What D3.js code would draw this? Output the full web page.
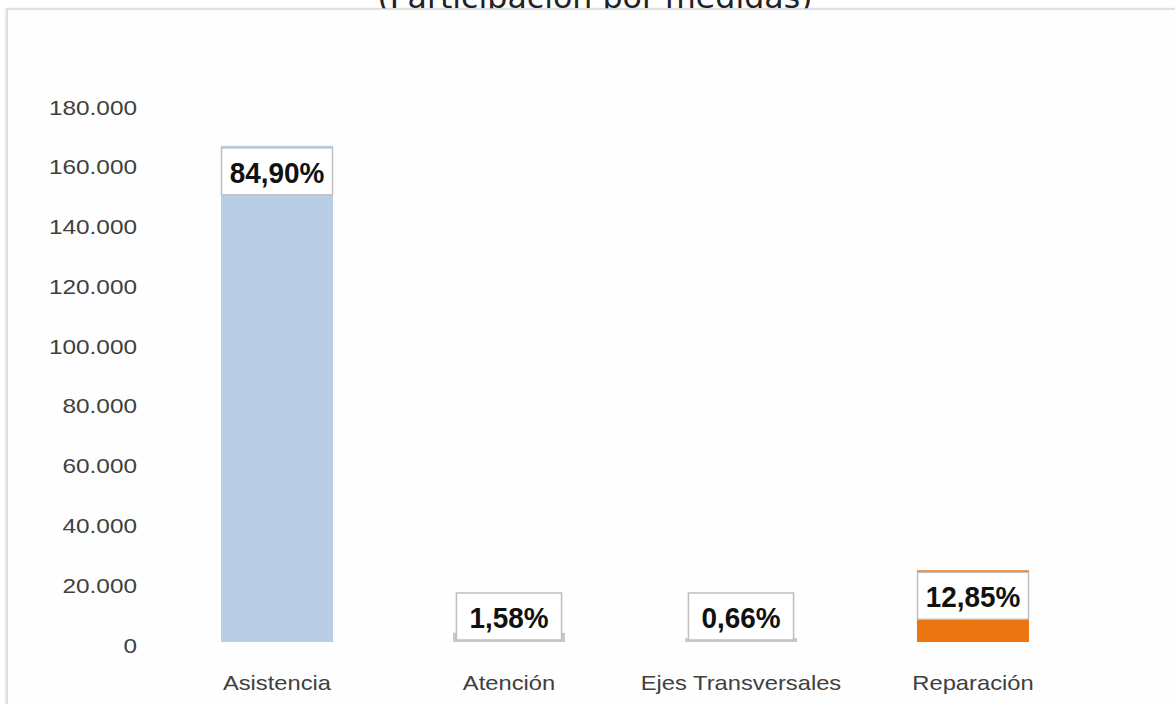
<!DOCTYPE html>
<html>
<head>
<meta charset="utf-8">
<script src="https://cdn.jsdelivr.net/npm/d3@7"></script>
<style>
  html, body { margin: 0; padding: 0; background: #ffffff; }
  svg { display: block; }
</style>
</head>
<body>
<svg id="chart" width="1175" height="704"></svg>
<script>
// ---- data ----
const categories = ["Asistencia", "Atención", "Ejes Transversales", "Reparación"];
const values = [166000, 3090, 1290, 24000];
const percentLabels = ["84,90%", "1,58%", "0,66%", "12,85%"];
const yTicks = [0, 20000, 40000, 60000, 80000, 100000, 120000, 140000, 160000, 180000];
const tickLabels = ["0", "20.000", "40.000", "60.000", "80.000", "100.000", "120.000", "140.000", "160.000", "180.000"];
const barColors = ["#b9cde5", "#c9c9c9", "#c9c9c9", "#ec7512"];
const title = "(Participación por medidas)";

const svg = d3.select("#chart");

// title (mostly cut off at top, as in the reference)
const t = svg.append("text")
  .attr("x", 595).attr("y", 8)
  .attr("text-anchor", "middle")
  .attr("font-family", "DejaVu Sans, Verdana, sans-serif")
  .attr("font-size", 30)
  .attr("fill", "#222")
  .text(title);
t.attr("textLength", 435).attr("lengthAdjust", "spacingAndGlyphs");

// chart frame with shadow
const defs = svg.append("defs");
const f = defs.append("filter").attr("id", "sh").attr("x", "-5%").attr("y", "-5%").attr("width", "110%").attr("height", "110%");
f.append("feDropShadow").attr("dx", 0).attr("dy", 1).attr("stdDeviation", 1.5).attr("flood-color", "#000").attr("flood-opacity", 0.18);

svg.append("rect")
  .attr("x", 7).attr("y", 9).attr("width", 1200).attr("height", 720)
  .attr("fill", "#fefefe")
  .attr("stroke", "#d6d6d6").attr("stroke-width", 1.5)
  .attr("filter", "url(#sh)");

// scales
const x = d3.scalePoint().domain(categories).range([161, 1089]).padding(0.5);
const y = d3.scaleLinear().domain([0, 180000]).range([642, 104]);
const barW = 112;

// y tick labels
const stretch = 1.16;
const tg = svg.append("g");
yTicks.forEach((v, i) => {
  const el = tg.append("text")
    .attr("x", 137).attr("y", y(v) + 10.5)
    .attr("text-anchor", "end")
    .attr("font-family", "Liberation Sans, Arial, sans-serif")
    .attr("font-size", 21)
    .attr("fill", "#404040")
    .text(tickLabels[i]);
  const w = el.node().getComputedTextLength();
  el.attr("textLength", w * stretch).attr("lengthAdjust", "spacingAndGlyphs");
});

// bars
svg.append("g").selectAll("rect")
  .data(categories)
  .join("rect")
  .attr("x", d => x(d) - barW / 2)
  .attr("width", barW)
  .attr("y", (d, i) => y(values[i]))
  .attr("height", (d, i) => y(0) - y(values[i]))
  .attr("fill", (d, i) => barColors[i]);

// data label boxes
const lg = svg.append("g");
categories.forEach((c, i) => {
  const top = y(values[i]);
  const boxH = 47;
  const txt = lg.append("text")
    .attr("text-anchor", "middle")
    .attr("font-family", "Liberation Sans, Arial, sans-serif")
    .attr("font-weight", "bold")
    .attr("font-size", 30)
    .attr("fill", "#111")
    .text(percentLabels[i]);
  const tw = txt.node().getComputedTextLength() * 0.93;
  txt.attr("textLength", tw).attr("lengthAdjust", "spacingAndGlyphs");
  const bw = Math.min(barW - 1, tw + 26);
  let by;
  if (y(0) - top > boxH + 4) by = top + 2; else by = y(0) - 2 - boxH;
  lg.insert("rect", "text")
    .attr("x", x(c) - bw / 2).attr("y", by)
    .attr("width", bw).attr("height", boxH)
    .attr("fill", "#ffffff")
    .attr("stroke", "#bfbfbf").attr("stroke-width", 1.5);
  txt.attr("x", x(c)).attr("y", by + 35);
});

// category labels
const cg = svg.append("g");
categories.forEach(c => {
  const el = cg.append("text")
    .attr("x", x(c)).attr("y", 690)
    .attr("text-anchor", "middle")
    .attr("font-family", "Liberation Sans, Arial, sans-serif")
    .attr("font-size", 21)
    .attr("fill", "#404040")
    .text(c);
  const w = el.node().getComputedTextLength();
  el.attr("textLength", w * 1.13).attr("lengthAdjust", "spacingAndGlyphs");
});
</script>
</body>
</html>
